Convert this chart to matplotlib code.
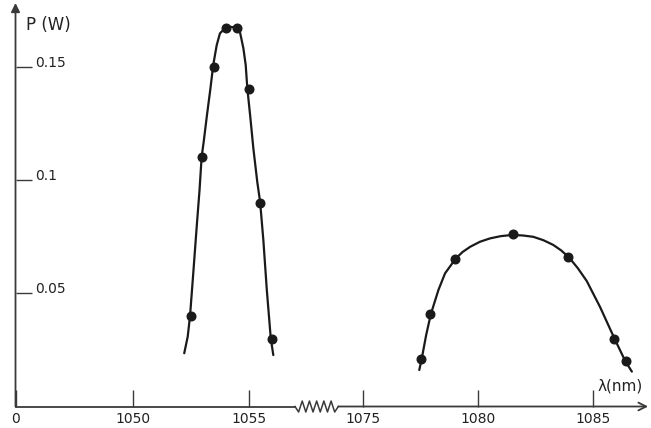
import numpy as np
import matplotlib
matplotlib.use("Agg")
import matplotlib.pyplot as plt

# ---- data ----
left_lambda = [1052.5, 1053.0, 1053.5, 1054.0, 1054.5, 1055.0, 1055.5, 1056.0]
left_power = [0.040, 0.110, 0.150, 0.167, 0.167, 0.140, 0.090, 0.030]

right_lambda = [1077.5, 1077.9, 1079.0, 1081.5, 1083.9, 1085.9, 1086.4]
right_power = [0.021, 0.041, 0.065, 0.076, 0.066, 0.030, 0.020]

# hand-drawn fit curves
left_curve_lambda = [1052.22, 1052.37, 1052.47, 1052.61, 1052.77, 1052.88, 1052.97, 1053.06,
                     1053.20, 1053.35, 1053.47, 1053.62, 1053.76, 1053.94, 1054.07, 1054.20,
                     1054.34, 1054.48, 1054.62, 1054.77, 1054.87, 1054.94, 1055.06, 1055.20,
                     1055.37, 1055.49, 1055.63, 1055.78, 1055.95, 1056.06]
left_curve_power = [0.0235, 0.0308, 0.0399, 0.0589, 0.0810, 0.0955, 0.1101, 0.1169,
                    0.1286, 0.1404, 0.1507, 0.1595, 0.1647, 0.1666, 0.1674, 0.1676,
                    0.1674, 0.1669, 0.1654, 0.1581, 0.1507, 0.1404, 0.1286, 0.1139,
                    0.0990, 0.0904, 0.0735, 0.0514, 0.0301, 0.0227]

right_curve_lambda = [1077.44, 1077.55, 1077.74, 1077.94, 1078.27, 1078.56, 1079.03, 1079.32,
                      1079.65, 1080.07, 1080.51, 1080.98, 1081.46, 1081.93, 1082.39, 1082.83,
                      1083.26, 1083.60, 1083.94, 1084.32, 1084.71, 1085.29, 1085.91,
                      1086.38, 1086.67]
right_curve_power = [0.0161, 0.0213, 0.0316, 0.0407, 0.0514, 0.0588, 0.0654, 0.0682,
                     0.0705, 0.0727, 0.0742, 0.0752, 0.0757, 0.0755, 0.0749, 0.0734,
                     0.0713, 0.0689, 0.0658, 0.0611, 0.0554, 0.0439, 0.0301,
                     0.0201, 0.0154]

x_ticks = [0, 1050, 1055, 1075, 1080, 1085]
x_tick_labels = ["0", "1050", "1055", "1075", "1080", "1085"]
y_ticks = [0.05, 0.1, 0.15]
y_tick_labels = ["0.05", "0.1", "0.15"]

# ---- broken wavelength scale (piecewise linear) ----
brk_x = [0.0, 1050.0, 1056.5, 1073.5, 1100.0]
brk_u = [0.0, 117.2, 268.0, 313.0, 923.3]


def fwd(x):
    return np.interp(x, brk_x, brk_u)


def inv(u):
    return np.interp(u, brk_u, brk_x)


W, H = 651, 428
fig = plt.figure(figsize=(W / 100, H / 100), dpi=100)
ax_l, ax_r, ax_b, ax_t = 15.5, 645.0, 406.5, 8.0
ax = fig.add_axes([ax_l / W, 1 - ax_b / H, (ax_r - ax_l) / W, (ax_b - ax_t) / H])
ax.set_xscale('function', functions=(fwd, inv))
ax.set_xlim(0, 1087.24)
ax.set_ylim(0, 0.1759)

ink = '#1a1a1a'
axc = '#3a3a3a'

ax.plot(left_curve_lambda, left_curve_power, color=ink, lw=1.6,
        solid_capstyle='round', solid_joinstyle='round')
ax.plot(right_curve_lambda, right_curve_power, color=ink, lw=1.6,
        solid_capstyle='round', solid_joinstyle='round')
ax.plot(left_lambda, left_power, 'o', color=ink, ms=6.2, clip_on=False)
ax.plot(right_lambda, right_power, 'o', color=ink, ms=6.2, clip_on=False)

for s in ax.spines.values():
    s.set_visible(False)

ax.set_xticks(x_ticks)
ax.set_xticklabels(x_tick_labels)
ax.tick_params(axis='x', direction='in', length=12, width=1.0, color=axc,
               labelsize=10, labelcolor='#222222', pad=4)
ax.set_yticks(y_ticks)
ax.tick_params(axis='y', direction='in', length=11.5, width=1.0, color=axc, labelleft=False)
for yv, lab in zip(y_ticks, y_tick_labels):
    ax.annotate(lab, xy=(0, yv), xycoords=('axes fraction', 'data'),
                xytext=(14, 3), textcoords='offset points', ha='left', va='center',
                fontsize=10, color='#222222')

# axes lines with arrows and zigzag break
z0 = (295 - ax_l) / (ax_r - ax_l)
z1 = (338.3 - ax_l) / (ax_r - ax_l)
amp = 5.5 / (ax_b - ax_t)
ax.plot([0, z0], [0, 0], transform=ax.transAxes, color=axc, lw=1.3, clip_on=False)
nseg = 12
zx = np.linspace(z0, z1, nseg + 1)
zy = [0.0] + [(-amp if i % 2 == 0 else amp) for i in range(nseg - 1)] + [0.0]
ax.plot(zx, zy, transform=ax.transAxes, color=axc, lw=1.1, clip_on=False)
ax.annotate('', xy=(1.005, 0), xytext=(z1, 0), xycoords='axes fraction',
            arrowprops=dict(arrowstyle='->', lw=1.3, color=axc, shrinkA=0, shrinkB=0,
                            mutation_scale=14))
ax.annotate('', xy=(0, 1.0125), xytext=(0, 0), xycoords='axes fraction',
            arrowprops=dict(arrowstyle='-|>', lw=1.3, color=axc, shrinkA=0, shrinkB=0,
                            mutation_scale=13))

fig.text(26 / W, 1 - 25 / H, 'P (W)', ha='left', va='center', fontsize=12, color='#222222')
fig.text(597 / W, 1 - 386 / H, 'λ(nm)', ha='left', va='center', fontsize=11, color='#222222')

fig.savefig('out.png', dpi=100, facecolor='white')
